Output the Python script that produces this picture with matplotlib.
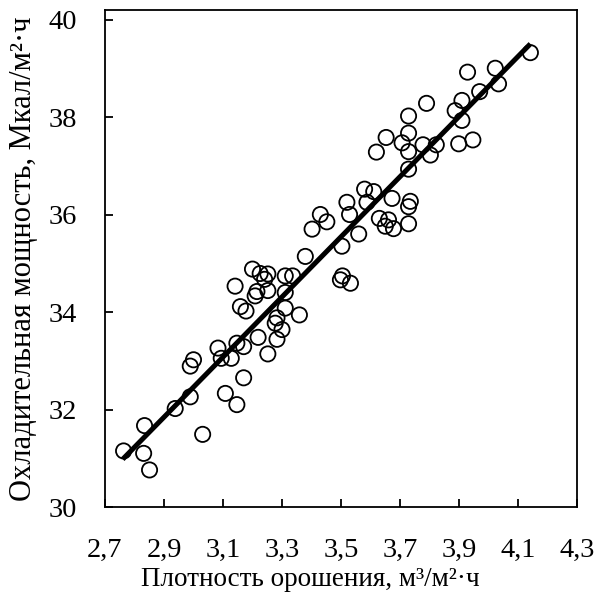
import numpy as np
import matplotlib
matplotlib.use('Agg')
import matplotlib.pyplot as plt

# irrigation density, m3/m2*h
density = [
    2.763, 2.834, 2.831, 2.851, 2.938, 2.989, 3.031, 3.108, 3.147, 2.989,
    3.000, 3.083, 3.094, 3.128, 3.147, 3.170, 3.170, 3.252, 3.219, 3.283,
    3.300, 3.277, 3.283, 3.359, 3.311, 3.178, 3.159, 3.209, 3.215, 3.252,
    3.311, 3.141, 3.241, 3.200, 3.226, 3.252, 3.311, 3.336, 3.379, 3.402,
    3.430, 3.452, 3.503, 3.505, 3.498, 3.532, 3.520, 3.529, 3.560, 3.580,
    3.611, 3.588, 3.673, 3.630, 3.661, 3.650, 3.678, 3.729, 3.735, 3.729,
    3.729, 3.620, 3.729, 3.653, 3.707, 3.729, 3.729, 3.778, 3.823, 3.803,
    3.790, 3.899, 3.947, 3.887, 3.910, 3.910, 3.929, 3.970, 4.023, 4.034,
    4.142,
]
# cooling capacity, Mcal/m2*h
capacity = [
    31.15, 31.67, 31.10, 30.76, 32.02, 32.26, 31.49, 32.33, 32.10, 32.89,
    33.02, 33.26, 33.05, 33.05, 33.36, 33.29, 32.65, 33.14, 33.48, 33.44,
    33.64, 33.77, 33.88, 33.94, 34.08, 34.02, 34.11, 34.33, 34.42, 34.44,
    34.40, 34.53, 34.67, 34.88, 34.79, 34.78, 34.74, 34.74, 35.14, 35.70,
    36.00, 35.85, 35.35, 34.74, 34.66, 34.59, 36.25, 36.00, 35.60, 36.52,
    36.47, 36.25, 36.33, 35.92, 35.89, 35.76, 35.71, 35.81, 36.27, 36.16,
    36.93, 37.28, 37.29, 37.58, 37.47, 37.67, 38.02, 37.43, 37.43, 37.22,
    38.28, 37.45, 37.53, 38.13, 37.93, 38.34, 38.92, 38.52, 39.00, 38.68,
    39.32,
]
# trend line end points
trend_x = [2.76, 4.142]
trend_y = [30.98, 39.50]

x_ticks = [2.7, 2.9, 3.1, 3.3, 3.5, 3.7, 3.9, 4.1, 4.3]
y_ticks = [30, 32, 34, 36, 38, 40]

plt.rcParams['font.family'] = ['Liberation Serif', 'DejaVu Serif']

fig = plt.figure(figsize=(5.98, 5.96), dpi=100)
ax = fig.add_axes([105 / 598, 1 - 507 / 596, 472 / 598, 497 / 596])

ax.scatter(density, capacity, s=120, facecolors='none', edgecolors='black',
           linewidths=1.3, zorder=3)
ax.plot(trend_x, trend_y, color='black', lw=3.6, solid_capstyle='butt', zorder=2)

ax.set_xlim(2.7, 4.3)
ax.set_ylim(30, 30 + 497 / 48.75)
ax.set_xticks(x_ticks)
ax.set_xticklabels([f'{v:.1f}'.replace('.', ',') for v in x_ticks])
ax.set_yticks(y_ticks)
ax.set_yticklabels([str(v) for v in y_ticks])

ax.tick_params(axis='both', direction='in', length=6, width=1.3,
               labelsize=20.5, color='black')
ax.tick_params(axis='x', pad=22)
ax.tick_params(axis='y', pad=20)
for sp in ax.spines.values():
    sp.set_linewidth(1.3)

ax.set_xlabel('Плотность орошения, м³/м²·ч', fontsize=19.5)
ax.xaxis.label.set_va('center')
ax.xaxis.set_label_coords((310 - 105) / 472, (507 - 580) / 497)
ax.set_ylabel('Охладительная мощность, Мкал/м²·ч', fontsize=22, labelpad=8)

fig.savefig('out.png', dpi=100)
